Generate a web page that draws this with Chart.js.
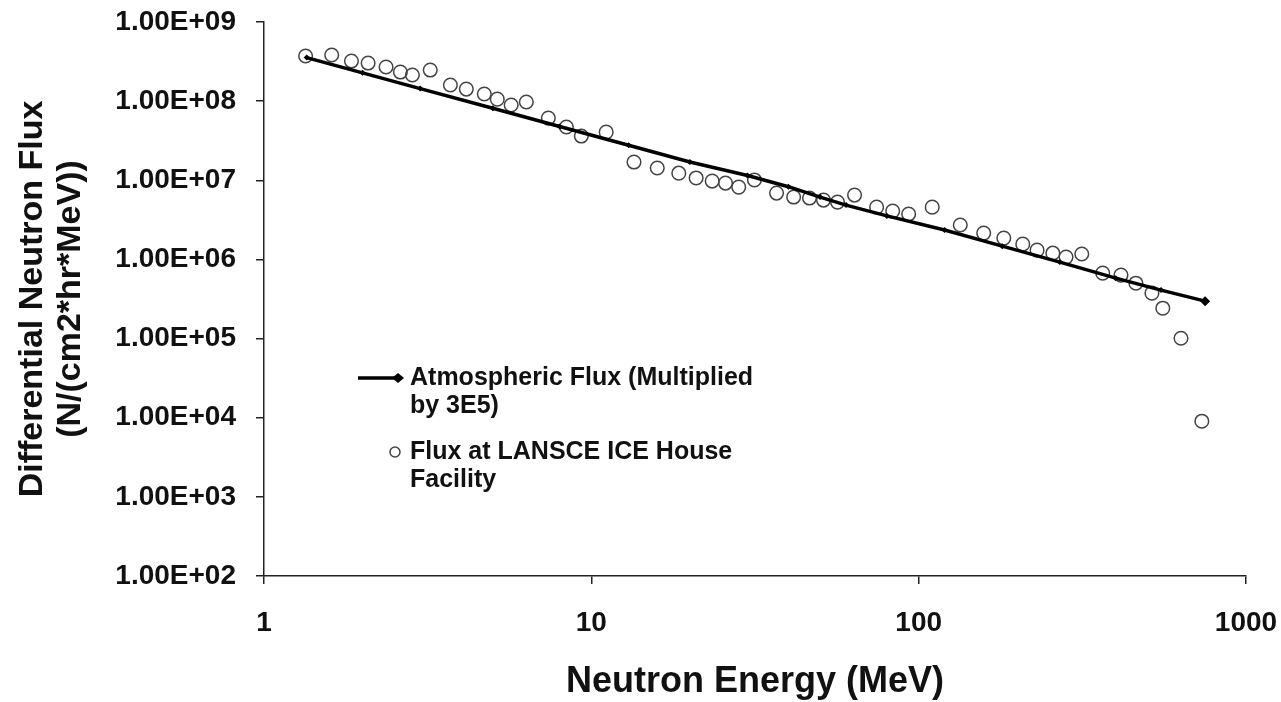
<!DOCTYPE html>
<html>
<head>
<meta charset="utf-8">
<script src="https://cdn.jsdelivr.net/npm/chart.js@4.4.0/dist/chart.umd.min.js"></script>
<style>
  html, body { margin: 0; padding: 0; background: #fff; }
  .chart-box { width: 1281px; height: 702px; }
</style>
</head>
<body>
<div class="chart-box"><canvas class="flux-chart"></canvas></div>
<script>
// LANSCE ICE House measured spectrum (open circles)
const energy = [1.34, 1.61, 1.85, 2.08, 2.36, 2.61, 2.84, 3.22, 3.71, 4.15, 4.71, 5.16, 5.69, 6.33,
  7.39, 8.39, 9.32, 11.1, 13.5, 15.9, 18.5, 20.9, 23.4, 25.7, 28.2, 31.5, 36.8, 41.5, 46.4, 51.2,
  56.5, 63.7, 74.4, 83.3, 93.2, 110, 134, 158, 182, 208, 230, 257, 282, 315, 365, 415, 461, 516,
  557, 633, 733];
const flux = [3.72e8, 3.83e8, 3.21e8, 3.03e8, 2.70e8, 2.33e8, 2.14e8, 2.47e8, 1.60e8, 1.42e8, 1.23e8,
  1.06e8, 8.93e7, 9.75e7, 6.11e7, 4.71e7, 3.62e7, 4.06e7, 1.70e7, 1.43e7, 1.23e7, 1.07e7, 9.77e6,
  9.22e6, 8.20e6, 1.01e7, 6.89e6, 6.14e6, 5.96e6, 5.62e6, 5.30e6, 6.50e6, 4.58e6, 4.08e6, 3.74e6,
  4.58e6, 2.72e6, 2.15e6, 1.86e6, 1.56e6, 1.31e6, 1.20e6, 1.07e6, 1.17e6, 6.71e5, 6.34e5, 5.01e5,
  3.75e5, 2.42e5, 1.01e5, 9.04e3];

// atmospheric spectrum x 3E5 (solid line)
const lineEnergy = [1.35, 2, 3, 5, 8, 13, 20, 30, 40, 50, 60, 80, 120, 180, 270, 400, 550, 750];
const lineFlux = [3.55e8, 2.28e8, 1.44e8, 8.12e7, 4.78e7, 2.77e7, 1.70e7, 1.15e7, 8.3e6, 6.13e6,
  4.86e6, 3.55e6, 2.35e6, 1.47e6, 9.25e5, 5.8e5, 4.1e5, 2.97e5];

const seriesNames = [
  ['Atmospheric Flux (Multiplied', 'by 3E5)'],
  ['Flux at LANSCE ICE House', 'Facility']
];

const xTicks = [1, 10, 100, 1000];
const xTickLabels = ['1', '10', '100', '1000'];
const yTicks = [1e2, 1e3, 1e4, 1e5, 1e6, 1e7, 1e8, 1e9];
const yTickLabels = ['1.00E+02', '1.00E+03', '1.00E+04', '1.00E+05', '1.00E+06', '1.00E+07', '1.00E+08', '1.00E+09'];

const FONT = "'Liberation Sans', Arial, sans-serif";
const INK = '#111';
const MARKER = '#444';

Chart.defaults.font.family = FONT;
Chart.defaults.color = INK;

// legend drawn inside the plot, two-line labels like the original
const insideLegend = {
  id: 'insideLegend',
  afterDraw(chart) {
    const { ctx, chartArea } = chart;
    const x0 = chartArea.left, y0 = chartArea.top;
    ctx.save();
    ctx.font = 'bold 25px ' + FONT;
    ctx.textBaseline = 'middle';

    // line + diamond
    ctx.strokeStyle = '#000';
    ctx.lineWidth = 3.5;
    ctx.beginPath();
    ctx.moveTo(x0 + 94, y0 + 356);
    ctx.lineTo(x0 + 134, y0 + 356);
    ctx.stroke();
    ctx.fillStyle = '#000';
    ctx.beginPath();
    ctx.moveTo(x0 + 140, y0 + 356);
    ctx.lineTo(x0 + 134, y0 + 351);
    ctx.lineTo(x0 + 128, y0 + 356);
    ctx.lineTo(x0 + 134, y0 + 361);
    ctx.closePath();
    ctx.fill();

    // open circle
    ctx.strokeStyle = MARKER;
    ctx.lineWidth = 1.5;
    ctx.beginPath();
    ctx.arc(x0 + 131, y0 + 430, 5, 0, Math.PI * 2);
    ctx.stroke();

    ctx.fillStyle = INK;
    seriesNames[0].forEach((t, i) => ctx.fillText(t, x0 + 146, y0 + 356 + i * 28));
    seriesNames[1].forEach((t, i) => ctx.fillText(t, x0 + 146, y0 + 430 + i * 28));
    ctx.restore();
  }
};

// drop the extra room Chart.js keeps for the end labels, layout.padding decides instead
function noLabelPadding (s) {
  s.paddingTop = 0;
  s.paddingBottom = 0;
  s.paddingLeft = 0;
  s.paddingRight = 0;
}

function displayFluxChart () {
  const ctx = document.querySelector('.flux-chart');
  const lastIdx = lineEnergy.length - 1;

  new Chart(ctx, {
    type: 'scatter',
    data: {
      datasets: [{
        label: seriesNames[0].join(' '),
        data: lineEnergy.map((e, i) => ({ x: e, y: lineFlux[i] })),
        showLine: true,
        borderColor: '#000',
        borderWidth: 3.5,
        backgroundColor: '#000',
        pointStyle: 'rectRot',
        pointRadius: c => c.dataIndex === lastIdx ? 5 : 3,
        pointBorderWidth: 0
      }, {
        label: seriesNames[1].join(' '),
        data: energy.map((e, i) => ({ x: e, y: flux[i] })),
        pointStyle: 'circle',
        pointRadius: 6.8,
        borderColor: MARKER,
        borderWidth: 1.5,
        backgroundColor: 'rgba(0,0,0,0)'
      }]
    },
    options: {
      maintainAspectRatio: false,
      responsive: true,
      animation: false,
      layout: { padding: { top: 22, right: 35, bottom: 0, left: 0 } },
      plugins: {
        legend: { display: false },
        tooltip: { enabled: false }
      },
      scales: {
        x: {
          type: 'logarithmic',
          min: 1,
          max: 1000,
          afterBuildTicks: s => { s.ticks = xTicks.map(v => ({ value: v })); },
          afterFit: s => { s.height = 126; noLabelPadding(s); },
          border: { display: true, color: '#222', width: 1.5 },
          grid: { drawOnChartArea: false, drawTicks: true, tickLength: 8, color: '#222', lineWidth: 1.5 },
          ticks: {
            autoSkip: false,
            maxRotation: 0,
            padding: 22,
            color: INK,
            font: { size: 28, weight: 'bold' },
            callback: (v, i) => xTickLabels[i]
          },
          title: {
            display: true,
            text: 'Neutron Energy (MeV)',
            color: INK,
            font: { size: 36, weight: 'bold', lineHeight: 1.1 },
            padding: { top: 0, bottom: 0 }
          }
        },
        y: {
          type: 'logarithmic',
          min: 1e2,
          max: 1e9,
          afterBuildTicks: s => { s.ticks = yTicks.map(v => ({ value: v })); },
          afterFit: s => { s.width = 264; noLabelPadding(s); },
          border: { display: true, color: '#222', width: 1.5 },
          grid: { drawOnChartArea: false, drawTicks: true, tickLength: 8, color: '#222', lineWidth: 1.5 },
          ticks: {
            autoSkip: false,
            padding: 20,
            color: INK,
            font: { size: 28, weight: 'bold' },
            callback: (v, i) => yTickLabels[i]
          },
          title: {
            display: true,
            text: ['Differential Neutron Flux', '(N/(cm2*hr*MeV))'],
            color: INK,
            font: { size: 34, weight: 'bold', lineHeight: 1.12 },
            padding: { top: 14, bottom: 0 }
          }
        }
      }
    },
    plugins: [insideLegend]
  });
}

displayFluxChart();
</script>
</body>
</html>
